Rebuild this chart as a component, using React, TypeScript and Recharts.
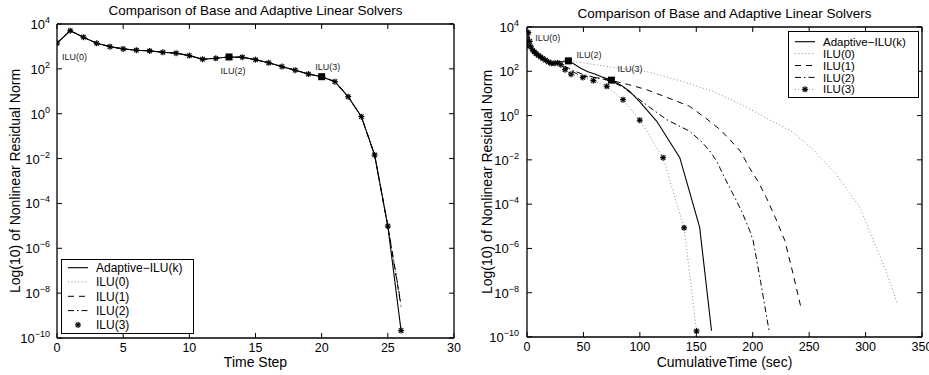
import { ComposedChart, Line, XAxis, YAxis, ReferenceDot, Label } from "recharts";

const FONT = '"Liberation Sans", Arial, Helvetica, sans-serif';

// left panel: log10 of the residual at every time step
const timeSteps = [0, 1, 2, 3, 4, 5, 6, 7, 8, 9, 10, 11, 12, 13, 14, 15, 16, 17, 18, 19, 20, 21, 22, 23, 24, 25, 26];
const stepAdaptive = [3.15, 3.7, 3.41, 3.14, 2.99, 2.89, 2.83, 2.8, 2.74, 2.7, 2.59, 2.43, 2.47, 2.53, 2.52, 2.41, 2.27, 2.1, 1.94, 1.77, 1.65, 1.43, 0.76, -0.13, -1.84, -5.01, -9.67];
const stepIlu0 = [3.15, 3.7, 3.41, 3.14, 2.99, 2.89, 2.83, 2.8, 2.74, 2.7, 2.59, 2.43, 2.47, 2.53, 2.52, 2.41, 2.27, 2.1, 1.94, 1.77, 1.65, 1.43, 0.76, -0.13, -1.84, -5.01, -8.5];
const stepIlu1 = [3.15, 3.7, 3.41, 3.14, 2.99, 2.89, 2.83, 2.8, 2.74, 2.7, 2.59, 2.43, 2.47, 2.53, 2.52, 2.41, 2.27, 2.1, 1.94, 1.77, 1.65, 1.43, 0.76, -0.13, -1.84, -5.01, -8.6];
const stepIlu2 = [3.15, 3.7, 3.41, 3.14, 2.99, 2.89, 2.83, 2.8, 2.74, 2.7, 2.59, 2.43, 2.47, 2.53, 2.52, 2.41, 2.27, 2.1, 1.94, 1.77, 1.65, 1.43, 0.76, -0.13, -1.84, -5.01, -8.5];
const stepIlu3 = [3.15, 3.7, 3.41, 3.14, 2.99, 2.89, 2.83, 2.8, 2.74, 2.7, 2.59, 2.43, 2.47, 2.53, 2.52, 2.41, 2.27, 2.1, 1.94, 1.77, 1.65, 1.43, 0.76, -0.13, -1.84, -5.01, -9.67];
const stepTicks = [0, 5, 10, 15, 20, 25, 30];

// right panel: same residuals against cumulative time (sec)
const adaptiveTime = [0, 1.2, 2.5, 4, 6, 8.5, 11, 13.5, 16, 18.5, 21, 24, 28, 32, 36.7, 42, 48, 54, 60, 66, 70, 74.8, 84, 91, 100, 115, 135.4, 153, 163.5];
const adaptiveLog = [3.15, 3.7, 3.3, 3.0, 2.89, 2.8, 2.72, 2.62, 2.52, 2.45, 2.38, 2.36, 2.44, 2.45, 2.47, 2.32, 2.13, 1.98, 1.88, 1.75, 1.68, 1.6, 1.35, 1.09, 0.62, -0.26, -1.9, -5.05, -9.72];
const ilu0Time = [0, 1.2, 2.5, 4, 6, 8.5, 11, 13.5, 16, 18.5, 21, 24, 28, 32, 36.7, 44, 60, 80, 106, 135, 165, 190, 212, 234, 253.5, 274, 295, 307, 318, 328];
const ilu0Log = [3.15, 3.7, 3.3, 3.0, 2.89, 2.8, 2.72, 2.62, 2.52, 2.45, 2.38, 2.36, 2.44, 2.45, 2.47, 2.43, 2.3, 2.15, 1.99, 1.58, 1.09, 0.5, -0.11, -0.7, -1.53, -2.65, -4.15, -5.65, -7.0, -8.49];
const ilu1Time = [0, 1.2, 2.5, 4, 6, 8.5, 11, 13.5, 16, 18.5, 21, 24, 28, 33, 40, 47, 55, 64.5, 75, 90, 106, 125, 144, 158, 171, 180, 189, 197, 205, 212, 220, 228.5, 236, 243.3];
const ilu1Log = [3.15, 3.7, 3.3, 3.0, 2.89, 2.8, 2.72, 2.62, 2.52, 2.45, 2.38, 2.36, 2.44, 2.2, 2.0, 1.8, 1.74, 1.69, 1.58, 1.4, 1.17, 0.8, 0.42, -0.1, -0.63, -1.1, -1.6, -2.35, -3.0, -3.7, -4.6, -5.65, -7.2, -8.79];
const ilu2Time = [0, 1.2, 2.5, 4, 6, 8.5, 11, 13.5, 16, 18.5, 21, 24, 28, 33, 40, 50, 60, 68, 76, 85, 94, 108, 123.6, 134, 144, 155, 162, 168, 175, 182.6, 190, 197.4, 200.4, 207, 214.5];
const ilu2Log = [3.15, 3.7, 3.3, 3.0, 2.89, 2.8, 2.72, 2.62, 2.52, 2.45, 2.38, 2.36, 2.44, 2.25, 2.05, 1.85, 1.72, 1.64, 1.52, 1.28, 0.94, 0.4, -0.18, -0.45, -0.7, -1.2, -1.6, -2.05, -2.8, -3.55, -4.3, -5.2, -5.65, -7.5, -9.72];
const ilu3Time = [0, 1.2, 2.5, 3.5, 5, 6.5, 8, 10, 12, 14, 16.5, 19, 21.5, 24, 27, 30, 33.7, 39, 49.4, 58.8, 70.7, 85.1, 99.9, 120.6, 139.2, 150.2];
const ilu3Log = [3.15, 3.75, 3.35, 3.1, 2.95, 2.88, 2.8, 2.72, 2.65, 2.58, 2.5, 2.42, 2.36, 2.36, 2.38, 2.3, 2.07, 1.87, 1.72, 1.58, 1.32, 0.72, -0.21, -1.9, -5.07, -9.73];
const timeTicks = [0, 50, 100, 150, 200, 250, 300, 350];

const logTicks = [-10, -8, -6, -4, -2, 0, 2, 4];
const legendNames = ["Adaptive\u2212ILU(k)", "ILU(0)", "ILU(1)", "ILU(2)", "ILU(3)"];

// switch points of the adaptive solver
const leftMarks = [
  { x: 0, y: 3.15, text: "ILU(0)", square: false },
  { x: 13, y: 2.53, text: "ILU(2)", square: true },
  { x: 20, y: 1.65, text: "ILU(3)", square: true },
];
const rightMarks = [
  { x: 1.2, y: 3.7, text: "ILU(0)", square: false },
  { x: 36.7, y: 2.47, text: "ILU(2)", square: true },
  { x: 74.8, y: 1.6, text: "ILU(3)", square: true },
];

type Pt = { x: number; y: number };
const pts = (xs: number[], ys: number[]): Pt[] => xs.map((x, i) => ({ x, y: ys[i] }));

const solid = { stroke: "#000", strokeWidth: 1.1 };
const dotted = { stroke: "#8c8c8c", strokeWidth: 1, strokeDasharray: "1 2.4" };
const dashed = { stroke: "#000", strokeWidth: 1, strokeDasharray: "6 5" };
const dashDot = { stroke: "#000", strokeWidth: 1, strokeDasharray: "6 3 1.5 3" };
const noLine = { stroke: "none", strokeWidth: 1 };

type Series = { name: string; data: Pt[]; style: any; stars?: boolean };

const leftSeries: Series[] = [
  { name: "ilu0", data: pts(timeSteps, stepIlu0), style: dotted },
  { name: "ilu1", data: pts(timeSteps, stepIlu1), style: dashed },
  { name: "ilu2", data: pts(timeSteps, stepIlu2), style: dashDot },
  { name: "adaptive", data: pts(timeSteps, stepAdaptive), style: solid },
  { name: "ilu3", data: pts(timeSteps, stepIlu3), style: noLine, stars: true },
];
const rightSeries: Series[] = [
  { name: "ilu0", data: pts(ilu0Time, ilu0Log), style: dotted },
  { name: "ilu1", data: pts(ilu1Time, ilu1Log), style: dashed },
  { name: "ilu2", data: pts(ilu2Time, ilu2Log), style: dashDot },
  { name: "adaptive", data: pts(adaptiveTime, adaptiveLog), style: solid },
  { name: "ilu3", data: pts(ilu3Time, ilu3Log), style: dotted, stars: true },
];

const leftNotes: Record<string, { dx: number; dy: number; anchor: string }> = {
  "ILU(0)": { dx: 5, dy: 17, anchor: "start" },
  "ILU(2)": { dx: 4, dy: 17, anchor: "middle" },
  "ILU(3)": { dx: 6, dy: -7, anchor: "middle" },
};
const rightNotes: Record<string, { dx: number; dy: number; anchor: string }> = {
  "ILU(0)": { dx: 7, dy: 7.5, anchor: "start" },
  "ILU(2)": { dx: 8, dy: -3, anchor: "start" },
  "ILU(3)": { dx: 6, dy: -8, anchor: "start" },
};

function Asterisk({ cx, cy }: { cx?: number; cy?: number }) {
  if (cx == null || cy == null) return null;
  const r = 3;
  const d = 2.2;
  return (
    <g stroke="#000" strokeWidth={1.2}>
      <line x1={cx - r} y1={cy} x2={cx + r} y2={cy} />
      <line x1={cx} y1={cy - r} x2={cx} y2={cy + r} />
      <line x1={cx - d} y1={cy - d} x2={cx + d} y2={cy + d} />
      <line x1={cx - d} y1={cy + d} x2={cx + d} y2={cy - d} />
    </g>
  );
}

function PowerTick(props: any) {
  const { x, y, payload } = props;
  const v = payload.value;
  const exp = v < 0 ? `\u2212${-v}` : `${v}`;
  return (
    <text x={x} y={y + 5} textAnchor="end" fontFamily={FONT} fontSize={13} fill="#000">
      10
      <tspan dy={-6} fontSize={9}>
        {exp}
      </tspan>
    </text>
  );
}

const axisLine = { stroke: "#000", strokeWidth: 1.3 };
const tickLine = { stroke: "#000", strokeWidth: 1 };
const tickFont = { fontSize: 12.5, fill: "#000", fontFamily: FONT };

type PanelProps = {
  left: number;
  width: number;
  plotLeft: number;
  plotRight: number;
  plotTop: number;
  plotBottom: number;
  xDomain: [number, number];
  xTicks: number[];
  xLabel: string;
  yLabelX: number;
  series: Series[];
  marks: { x: number; y: number; text: string; square: boolean }[];
  notes: Record<string, { dx: number; dy: number; anchor: string }>;
};

// top and right edges of the box, with inward ticks like the bottom/left axes
function Frame({ left, plotLeft, plotRight, plotTop, plotBottom, xDomain, xTicks }: PanelProps) {
  const w = plotRight - plotLeft;
  const h = plotBottom - plotTop;
  return (
    <svg
      style={{ position: "absolute", left: left + plotLeft - 2, top: plotTop - 2 }}
      width={w + 4}
      height={h + 4}
    >
      <g transform="translate(2, 2)">
        <line x1={0} y1={0} x2={w} y2={0} stroke="#000" strokeWidth={1.3} />
        <line x1={w} y1={0} x2={w} y2={h} stroke="#000" strokeWidth={1.3} />
        {xTicks.map((t) => {
          const x = ((t - xDomain[0]) / (xDomain[1] - xDomain[0])) * w;
          return <line key={`t${t}`} x1={x} y1={0} x2={x} y2={5} stroke="#000" strokeWidth={1} />;
        })}
        {logTicks.map((v) => {
          const y = h - ((v + 10) / 14) * h;
          return <line key={`r${v}`} x1={w} y1={y} x2={w - 5} y2={y} stroke="#000" strokeWidth={1} />;
        })}
      </g>
    </svg>
  );
}

function Panel(props: PanelProps) {
  const { left, width, plotLeft, plotRight, plotTop, plotBottom, xDomain, xTicks, xLabel, yLabelX, series, marks, notes } = props;
  return (
    <div style={{ position: "absolute", left, top: 0 }}>
      <ComposedChart
        width={width}
        height={375}
        margin={{ top: plotTop, right: width - plotRight, bottom: 0, left: 0 }}
      >
        <XAxis
          dataKey="x"
          type="number"
          domain={xDomain}
          ticks={xTicks}
          interval={0}
          allowDataOverflow
          height={375 - plotBottom}
          tickSize={-5}
          tickMargin={10}
          axisLine={axisLine}
          tickLine={tickLine}
          tick={tickFont}
        >
          <Label
            content={({ viewBox }: any) => (
              <text
                x={viewBox.x + viewBox.width / 2}
                y={367}
                textAnchor="middle"
                fontFamily={FONT}
                fontSize={14}
                fill="#000"
              >
                {xLabel}
              </text>
            )}
          />
        </XAxis>
        <YAxis
          type="number"
          domain={[-10, 4]}
          ticks={logTicks}
          interval={0}
          allowDataOverflow
          width={plotLeft}
          tickSize={-5}
          tickMargin={plotLeft === 57 ? 12 : 13}
          axisLine={axisLine}
          tickLine={tickLine}
          tick={<PowerTick />}
        >
          <Label
            content={({ viewBox }: any) => (
              <g>
                <text
                  transform={`translate(${yLabelX}, ${viewBox.y + viewBox.height / 2}) rotate(-90)`}
                  textAnchor="middle"
                  fontFamily={FONT}
                  fontSize={14}
                  fill="#000"
                >
                  Log(10) of Nonlinear Residual Norm
                </text>
                <text
                  x={(plotLeft + plotRight) / 2}
                  y={plotTop - 9.5}
                  textAnchor="middle"
                  fontFamily={FONT}
                  fontSize={13.5}
                  fill="#000"
                >
                  Comparison of Base and Adaptive Linear Solvers
                </text>
              </g>
            )}
          />
        </YAxis>
        {series.map((s) => (
          <Line
            key={s.name}
            data={s.data}
            dataKey="y"
            type="linear"
            fill="none"
            {...s.style}
            dot={
              s.stars
                ? (p: any) => <Asterisk key={`${s.name}-${p.index}`} cx={p.cx} cy={p.cy} />
                : false
            }
            activeDot={false}
            isAnimationActive={false}
          />
        ))}
        {marks.map((m) => {
          const n = notes[m.text];
          return (
            <ReferenceDot
              key={m.text}
              x={m.x}
              y={m.y}
              r={3.5}
              ifOverflow="visible"
              shape={(p: any) => (
                <g>
                  {m.square && <rect x={p.cx - 3.5} y={p.cy - 3.5} width={7} height={7} fill="#000" />}
                  <text
                    x={p.cx + n.dx}
                    y={p.cy + n.dy}
                    textAnchor={n.anchor as any}
                    fontFamily={FONT}
                    fontSize={9}
                    fill="#222"
                  >
                    {m.text}
                  </text>
                </g>
              )}
            />
          );
        })}
      </ComposedChart>
    </div>
  );
}

function LegendBox(props: {
  left: number;
  top: number;
  width: number;
  height: number;
  firstRow: number;
  rowGap: number;
  fontSize: number;
  styles: any[];
  stars: boolean[];
}) {
  const { left, top, width, height, firstRow, rowGap, fontSize, styles, stars } = props;
  return (
    <svg
      style={{ position: "absolute", left, top }}
      width={width + 2}
      height={height + 2}
    >
      <rect x={0.5} y={0.5} width={width} height={height} fill="#fff" stroke="#000" strokeWidth={1} />
      {legendNames.map((name, i) => {
        const cy = firstRow + i * rowGap;
        return (
          <g key={name}>
            <line x1={7} y1={cy} x2={27} y2={cy} {...styles[i]} />
            {stars[i] && <Asterisk cx={17} cy={cy} />}
            <text x={35} y={cy + fontSize * 0.36} fontFamily={FONT} fontSize={fontSize} fill="#000">
              {name}
            </text>
          </g>
        );
      })}
    </svg>
  );
}

const leftPanel: PanelProps = {
  left: 0,
  width: 465,
  plotLeft: 57,
  plotRight: 454,
  plotTop: 24,
  plotBottom: 338,
  xDomain: [0, 30],
  xTicks: stepTicks,
  xLabel: "Time Step",
  yLabelX: 20,
  series: leftSeries,
  marks: leftMarks,
  notes: leftNotes,
};
const rightPanel: PanelProps = {
  left: 465,
  width: 464,
  plotLeft: 62,
  plotRight: 457,
  plotTop: 27,
  plotBottom: 337,
  xDomain: [0, 350],
  xTicks: timeTicks,
  xLabel: "CumulativeTime (sec)",
  yLabelX: 27,
  series: rightSeries,
  marks: rightMarks,
  notes: rightNotes,
};

export default function App() {
  return (
    <div style={{ position: "relative", width: 929, height: 375, background: "#fff", overflow: "hidden" }}>
      <style>{"body{margin:0}"}</style>
      <Panel {...leftPanel} />
      <Panel {...rightPanel} />
      <Frame {...leftPanel} />
      <Frame {...rightPanel} />
      <LegendBox
        left={61}
        top={259}
        width={132}
        height={74}
        firstRow={8.7}
        rowGap={14.3}
        fontSize={12}
        styles={[solid, dotted, dashed, dashDot, noLine]}
        stars={[false, false, false, false, true]}
      />
      <LegendBox
        left={788}
        top={31}
        width={130}
        height={66}
        firstRow={10.7}
        rowGap={11.9}
        fontSize={11.5}
        styles={[solid, dotted, dashed, dashDot, dotted]}
        stars={[false, false, false, false, true]}
      />
    </div>
  );
}
